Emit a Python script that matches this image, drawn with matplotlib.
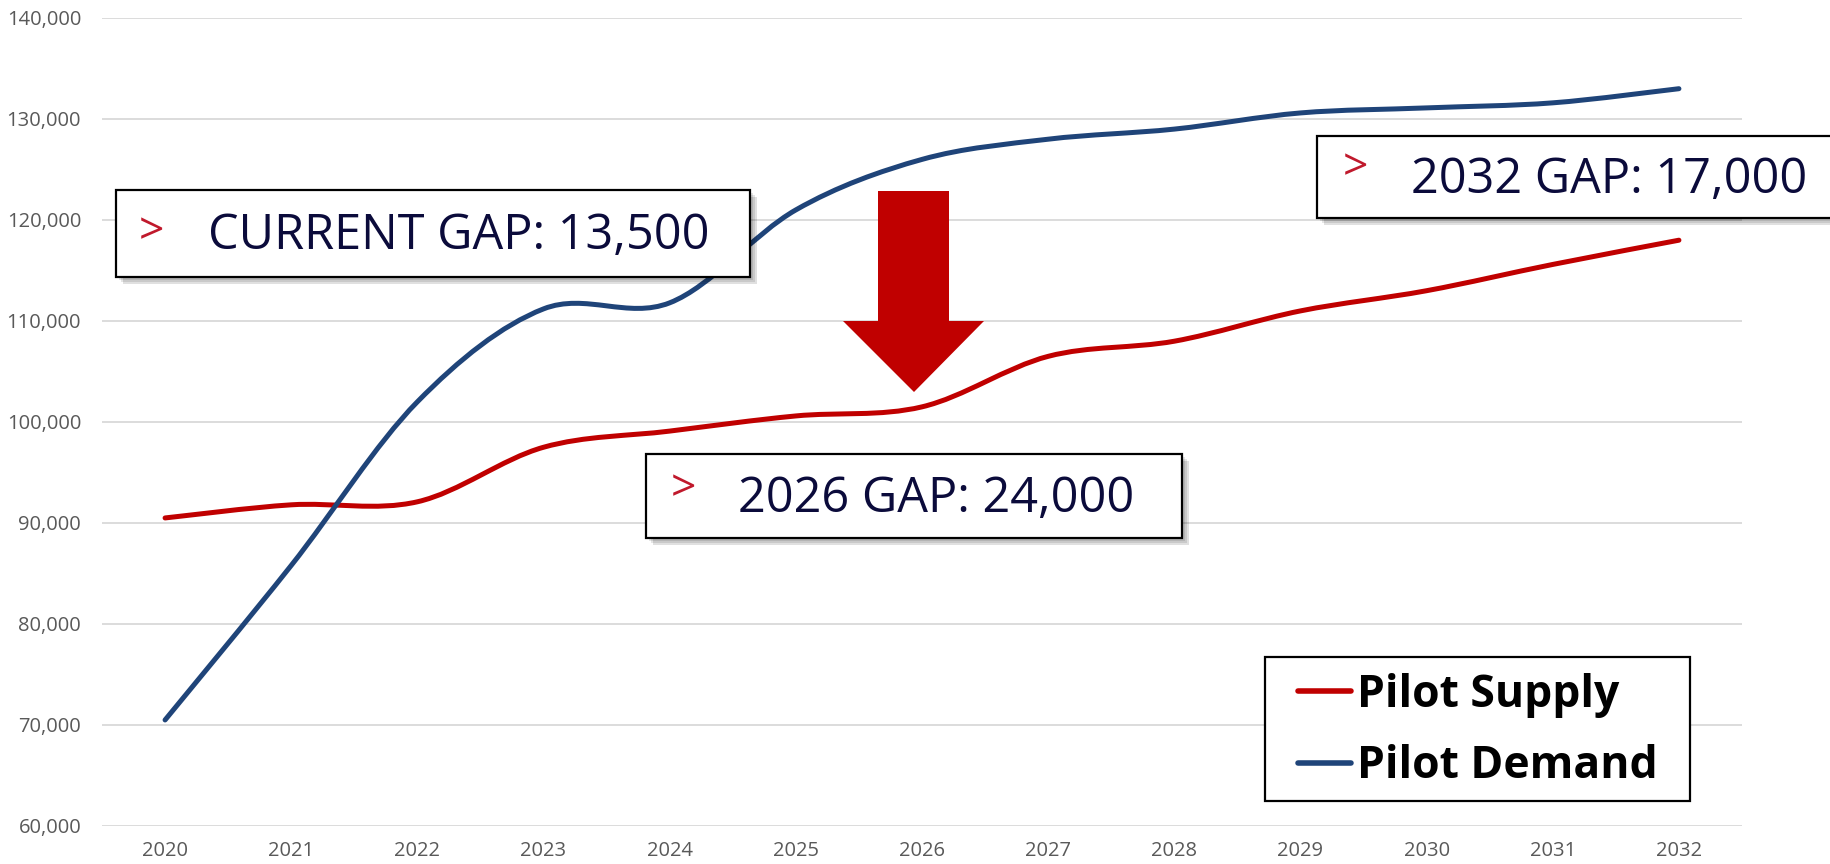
import numpy as np
import matplotlib
matplotlib.use("Agg")
import matplotlib.pyplot as plt
from matplotlib.path import Path
from matplotlib.patches import PathPatch, Rectangle, Polygon
from matplotlib.lines import Line2D
from matplotlib.ticker import FuncFormatter

# data
years = ["2020", "2021", "2022", "2023", "2024", "2025", "2026",
         "2027", "2028", "2029", "2030", "2031", "2032"]
supply = [90500, 91800, 92100, 97500, 99100, 100600, 101500,
          106500, 108000, 111000, 113000, 115600, 118000]
demand = [70500, 85800, 102000, 111200, 111800, 121000, 126000,
          128000, 129000, 130600, 131100, 131600, 133000]
callouts = ["CURRENT GAP: 13,500", "2026 GAP: 24,000", "2032 GAP: 17,000"]

RED = "#c00000"
BLUE = "#1f4479"
NAVY = "#0b0b3b"
W, H = 1831, 864

plt.rcParams["font.family"] = ["Open Sans", "DejaVu Sans"]


def smooth_path(xs, ys):
    """Excel-style smoothed line as cubic bezier segments."""
    pts = np.column_stack([xs, ys]).astype(float)
    n = len(pts)
    verts = [pts[0]]
    codes = [Path.MOVETO]
    for i in range(n - 1):
        p0 = pts[max(i - 1, 0)]
        p1 = pts[i]
        p2 = pts[i + 1]
        p3 = pts[min(i + 2, n - 1)]
        verts += [p1 + (p2 - p0) / 6, p2 - (p3 - p1) / 6, p2]
        codes += [Path.CURVE4] * 3
    return Path(verts, codes)


def fx(x):
    return x / W


def fy(y):
    return 1 - y / H


def fig_rect(x0, y0, x1, y1, **kw):
    return Rectangle((fx(x0), fy(y1)), fx(x1 - x0), fy(0) - fy(y1 - y0),
                     transform=fig.transFigure, **kw)


fig = plt.figure(figsize=(W / 100, H / 100), dpi=100)
ax = fig.add_axes([fx(102), fy(826), fx(1742) - fx(102), fy(18) - fy(826)])

x = np.arange(len(years))
for vals, color in [(supply, RED), (demand, BLUE)]:
    ax.add_patch(PathPatch(smooth_path(x, vals), fill=False, edgecolor=color,
                           lw=3.6, capstyle="round", joinstyle="round", zorder=3))

ax.set_xlim(-0.5, len(years) - 0.5)
ax.set_ylim(60000, 140000)
ax.set_yticks(np.arange(60000, 140001, 10000))
ax.yaxis.set_major_formatter(FuncFormatter(lambda v, p: f"{int(v):,}"))
ax.set_xticks(x)
ax.set_xticklabels(years)
ax.grid(axis="y", color="#d9d9d9", lw=1.3)
ax.set_axisbelow(True)
for s in ax.spines.values():
    s.set_visible(False)
ax.tick_params(length=0, labelsize=14.5, labelcolor="#595959")
ax.tick_params(axis="y", pad=15)
ax.tick_params(axis="x", pad=11)

# legend: frame drawn separately so the padding can match the reference
fig.add_artist(fig_rect(1265, 657, 1690, 801, facecolor="white",
                        edgecolor="black", lw=1.6, zorder=1))
handles = [Line2D([], [], color=RED, lw=4, solid_capstyle="round"),
           Line2D([], [], color=BLUE, lw=4, solid_capstyle="round")]
leg = fig.legend(handles, ["Pilot Supply", "Pilot Demand"],
                 loc="center left", bbox_to_anchor=(fx(1298), fy(731)),
                 bbox_transform=fig.transFigure, borderaxespad=0, borderpad=0,
                 prop={"size": 32, "weight": "bold"}, frameon=False,
                 handlelength=1.2, handletextpad=0.13, labelspacing=0.6)
leg.set_zorder(10)

# callout boxes (pixel positions in the figure)
boxes = [(116, 190, 750, 277), (646, 454, 1182, 538), (1317, 136, 1840, 218)]
text_x = [208, 738, 1411]
chev_x = [151, 683, 1355]
chev_dy = [-1, -6, -8]
for (x0, y0, x1, y1), tx, cx, dy, label in zip(boxes, text_x, chev_x, chev_dy, callouts):
    for k, a in enumerate([0.10, 0.10, 0.12]):
        off = 3 + 2 * k
        fig.add_artist(fig_rect(x0 + off, y0 + off, x1 + off, y1 + off,
                                facecolor="black", edgecolor="none", alpha=a, zorder=4))
    fig.add_artist(fig_rect(x0, y0, x1, y1, facecolor="white",
                            edgecolor="black", lw=1.6, zorder=5))
    yc = (y0 + y1) / 2
    fig.text(fx(tx), fy(yc + 3), label, fontsize=35, color=NAVY,
             ha="left", va="center", zorder=6)
    fig.text(fx(cx), fy(yc + dy), ">", fontsize=32, color="#c0192c",
             ha="center", va="center", zorder=6)

# big red arrow
arrow = [(878, 191), (949, 191), (949, 321), (984, 321), (914, 392),
         (843, 321), (878, 321)]
fig.add_artist(Polygon([(fx(a), fy(b)) for a, b in arrow], closed=True,
                       transform=fig.transFigure, facecolor=RED,
                       edgecolor="none", zorder=6))

fig.savefig("out.png", dpi=100)
